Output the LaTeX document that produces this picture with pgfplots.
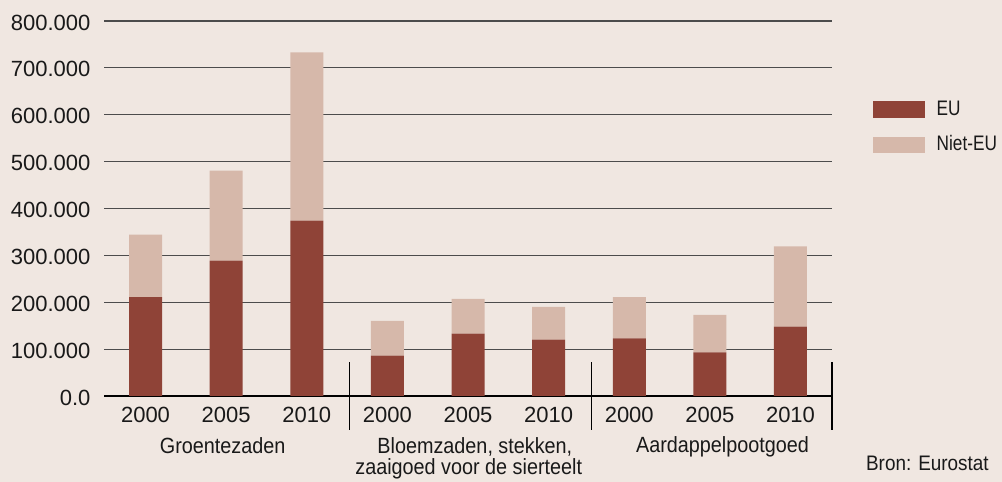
\documentclass[border=0pt]{standalone}
\usepackage{pgfplots}
\pgfplotsset{compat=1.18}
\usepackage{fontspec}
\setmainfont[FakeStretch=0.9]{Liberation Sans}
\newfontfamily\numfont{Liberation Sans}
\newfontfamily\legfont[FakeStretch=0.82]{Liberation Sans}
\definecolor{bg}{RGB}{240,231,225}
\definecolor{eu}{RGB}{143,67,55}
\definecolor{noneu}{RGB}{214,184,170}
\definecolor{txt}{RGB}{25,25,25}
\begin{document}
\begin{tikzpicture}[x=1pt,y=1pt]
\fill[bg] (0,0) rectangle (501,241);
\begin{axis}[
  at={(52pt,43pt)}, anchor=south west,
  scale only axis, width=364pt, height=187.5pt,
  xmin=-0.515, xmax=8.515, ymin=0, ymax=800,
  clip=false,
  ybar stacked, bar width=16.5pt,
  axis x line*=bottom, axis y line*=left,
  axis line style={-},
  y axis line style={draw=none},
  x axis line style={black, line width=0.6pt},
  major tick length=0pt,
  ytick={0,100,...,800},
  yticklabels={0.0,100.000,200.000,300.000,400.000,500.000,600.000,700.000,800.000},
  ymajorgrids, grid style={black!70, line width=0.55pt},
  xtick={0,...,8},
  xticklabels={2000,2005,2010,2000,2005,2010,2000,2005,2010},
  /pgf/number format/assume math mode=true,
  tick label style={font=\numfont\fontsize{11}{13}\selectfont, text=txt},
  xticklabel style={anchor=base, inner sep=0pt, yshift=-13.15pt},
  yticklabel style={anchor=east, inner sep=0pt, xshift=-6.6pt, yshift=-0.75pt},
  extra x ticks={2.525,5.53,8.515},
  extra x tick labels={},
  extra x tick style={grid=none, major tick length=34pt, tick align=center, tick style={black, line width=0.55pt}},
  legend style={at={(1.05632,0.78667)}, anchor=north west, draw=none, fill=none,
    inner sep=0pt, outer sep=0pt, row sep=8.65pt, column sep=5.85pt,
    font=\legfont\fontsize{10.5}{12}\selectfont, text=txt, nodes={inner sep=0pt}},
  legend cell align=left,
]
\addplot[fill=eu, draw=none,
  legend image code/.code={\fill[eu] (0pt,-4.175pt) rectangle (26pt,4.175pt);}]
  coordinates {(0,211) (1,289) (2,374) (3,86) (4,133) (5,120) (6,123) (7,93) (8,148)};
\addlegendentry{EU}
\addplot[fill=noneu, draw=none,
  legend image code/.code={\fill[noneu] (0pt,-4.175pt) rectangle (26pt,4.175pt);}]
  coordinates {(0,133) (1,192) (2,359) (3,74.5) (4,74) (5,70) (6,88) (7,80) (8,171)};
\addlegendentry{Niet-EU}
\node[anchor=base, inner sep=0pt, text=txt, font=\fontsize{11}{13}\selectfont, yshift=-28.6pt] at (axis cs:0.957,0) {Groentezaden};
\node[anchor=base, inner sep=0pt, text=txt, font=\fontsize{11}{13}\selectfont, yshift=-28.6pt] at (axis cs:4.085,0) {Bloemzaden, stekken,};
\node[anchor=base, inner sep=0pt, text=txt, font=\fontsize{11}{13}\selectfont, yshift=-39.5pt] at (axis cs:4.009,0) {zaaigoed voor de sierteelt};
\node[anchor=base, inner sep=0pt, text=txt, font=\fontsize{11}{13}\selectfont, yshift=-28.2pt] at (axis cs:7.157,0) {Aardappelpootgoed};
\node[anchor=base west, inner sep=0pt, text=txt, font=\fontsize{10.5}{12}\selectfont, yshift=-37.5pt] at (axis cs:8.933,0) {Bron: Eurostat};
\end{axis}
\pgfresetboundingbox
\useasboundingbox (0,0) rectangle (501,241);
\end{tikzpicture}
\end{document}
